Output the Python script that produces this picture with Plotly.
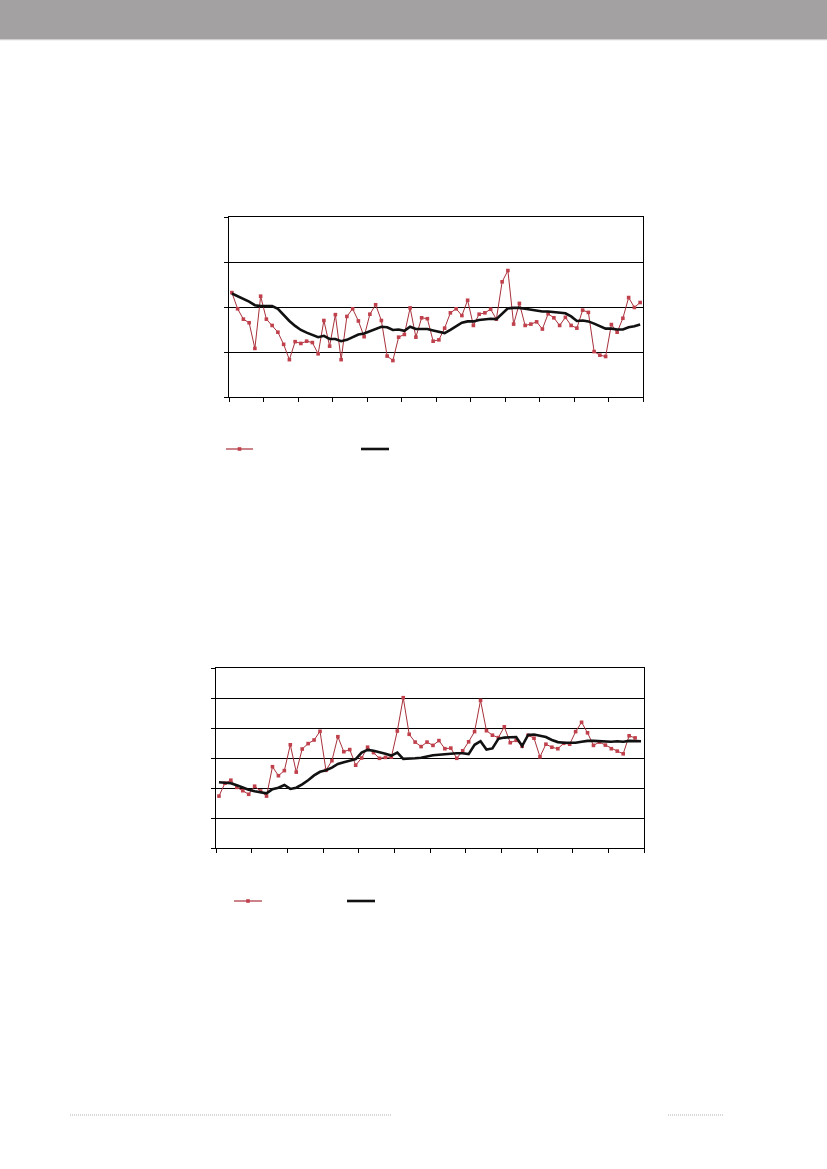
import plotly.graph_objects as go

# ---------------- data ----------------
periods = list(range(1, 73))

chart1_series = [
    2.32, 1.96, 1.73, 1.65, 1.08, 2.24, 1.73, 1.59, 1.44, 1.17, 0.83, 1.23,
    1.19, 1.24, 1.21, 0.96, 1.70, 1.13, 1.83, 0.83, 1.79, 1.96, 1.69, 1.34,
    1.84, 2.05, 1.70, 0.91, 0.81, 1.33, 1.39, 1.98, 1.33, 1.76, 1.74, 1.24,
    1.27, 1.53, 1.87, 1.96, 1.81, 2.15, 1.59, 1.84, 1.87, 1.95, 1.73, 2.56,
    2.81, 1.62, 2.08, 1.59, 1.62, 1.67, 1.51, 1.85, 1.76, 1.59, 1.77, 1.59,
    1.53, 1.93, 1.88, 1.01, 0.93, 0.90, 1.61, 1.44, 1.75, 2.21, 1.99, 2.10,
]
chart1_trend = [
    2.30, 2.24, 2.19, 2.12, 2.04, 2.02, 2.02, 2.02, 1.96, 1.82, 1.69, 1.58,
    1.49, 1.43, 1.38, 1.33, 1.36, 1.29, 1.29, 1.24, 1.27, 1.33, 1.39, 1.41,
    1.46, 1.52, 1.56, 1.55, 1.49, 1.50, 1.47, 1.56, 1.51, 1.51, 1.51, 1.48,
    1.45, 1.42, 1.49, 1.58, 1.65, 1.68, 1.68, 1.71, 1.73, 1.74, 1.73, 1.84,
    1.97, 1.98, 1.98, 1.96, 1.94, 1.91, 1.90, 1.90, 1.89, 1.87, 1.86, 1.79,
    1.69, 1.70, 1.68, 1.63, 1.58, 1.52, 1.52, 1.50, 1.50, 1.55, 1.57, 1.61,
]

chart2_series = [
    1.73, 2.16, 2.26, 2.02, 1.91, 1.79, 2.06, 1.90, 1.73, 2.71, 2.41, 2.58,
    3.44, 2.53, 3.30, 3.48, 3.60, 3.89, 2.59, 2.91, 3.71, 3.21, 3.28, 2.76,
    3.00, 3.36, 3.18, 2.99, 3.02, 3.03, 3.90, 5.01, 3.79, 3.53, 3.38, 3.53,
    3.42, 3.58, 3.31, 3.33, 2.99, 3.24, 3.54, 3.88, 4.92, 3.91, 3.76, 3.68,
    4.04, 3.51, 3.59, 3.39, 3.76, 3.66, 3.04, 3.46, 3.36, 3.31, 3.49, 3.46,
    3.88, 4.19, 3.84, 3.42, 3.53, 3.43, 3.31, 3.23, 3.14, 3.74, 3.67, None,
]
chart2_trend = [
    2.19, 2.18, 2.16, 2.09, 2.01, 1.94, 1.89, 1.86, 1.82, 1.96, 2.01, 2.10,
    1.97, 2.01, 2.12, 2.26, 2.42, 2.54, 2.59, 2.68, 2.80, 2.86, 2.91, 2.96,
    3.18, 3.27, 3.24, 3.20, 3.14, 3.08, 3.18, 2.97, 2.97, 2.99, 3.01, 3.06,
    3.09, 3.11, 3.13, 3.16, 3.16, 3.16, 3.13, 3.44, 3.56, 3.28, 3.32, 3.64,
    3.68, 3.69, 3.70, 3.40, 3.77, 3.78, 3.74, 3.70, 3.60, 3.53, 3.51, 3.50,
    3.51, 3.54, 3.57, 3.57, 3.56, 3.56, 3.54, 3.56, 3.54, 3.57, 3.57, 3.56,
]

# ---------------- styling ----------------
W, H = 827, 1169
RED_LINE = "#a8303a"
RED_MARK = "#c0404c"
BLACK = "#111111"

def px_x(v):
    return v / W

def px_y(v):
    return 1 - v / H

fig = go.Figure()

for xa, ya, series, trend in [("x", "y", chart1_series, chart1_trend),
                              ("x2", "y2", chart2_series, chart2_trend)]:
    fig.add_trace(go.Scatter(
        x=periods, y=series, xaxis=xa, yaxis=ya, mode="lines+markers",
        line=dict(color=RED_LINE, width=1),
        marker=dict(symbol="square", size=3.6, color=RED_MARK),
        showlegend=False, connectgaps=False,
    ))
    fig.add_trace(go.Scatter(
        x=periods, y=trend, xaxis=xa, yaxis=ya, mode="lines",
        line=dict(color=BLACK, width=2.6),
        showlegend=False,
    ))

tickpos = [0.5 + 6 * i for i in range(13)]
axis_common = dict(showline=True, linecolor="black", linewidth=1, mirror=True,
                   ticks="outside", ticklen=4, tickcolor="black",
                   showticklabels=False, zeroline=False)

fig.update_layout(
    width=W, height=H, margin=dict(l=0, r=0, t=0, b=0),
    paper_bgcolor="white", plot_bgcolor="white", showlegend=False,
    xaxis=dict(domain=[px_x(229), px_x(643)], range=[0.5, 72.5],
               tickvals=tickpos, showgrid=False, anchor="y", **axis_common),
    yaxis=dict(domain=[px_y(397), px_y(217)], range=[0, 4], dtick=1,
               showgrid=True, gridcolor="black", gridwidth=1, anchor="x",
               **axis_common),
    xaxis2=dict(domain=[px_x(216), px_x(644)], range=[0.5, 72.5],
                tickvals=tickpos, showgrid=False, anchor="y2", **axis_common),
    yaxis2=dict(domain=[px_y(848), px_y(668)], range=[0, 6], dtick=1,
                showgrid=True, gridcolor="black", gridwidth=1, anchor="x2",
                **axis_common),
)

shapes = []
# header band
shapes.append(dict(type="rect", xref="paper", yref="paper", x0=0, x1=1,
                   y0=px_y(39), y1=1, fillcolor="#a3a1a2", line=dict(width=0),
                   layer="below"))
shapes.append(dict(type="line", xref="paper", yref="paper", x0=0, x1=1,
                   y0=px_y(39.7), y1=px_y(39.7),
                   line=dict(color="#cfcfcf", width=1.2)))
# footer dotted rules
for a, b in [(70, 391), (668, 724)]:
    shapes.append(dict(type="line", xref="paper", yref="paper",
                       x0=px_x(a), x1=px_x(b), y0=px_y(1115), y1=px_y(1115),
                       line=dict(color="#a0a0a0", width=0.8, dash="1px,1px")))

# legend swatches (no legend text in reference)
for (ry, r0, r1, b0, b1) in [(449, 226, 253, 361, 389), (901, 234, 262, 347, 375)]:
    shapes.append(dict(type="line", xref="paper", yref="paper",
                       x0=px_x(r0), x1=px_x(r1), y0=px_y(ry), y1=px_y(ry),
                       line=dict(color=RED_LINE, width=1.2)))
    mx = (r0 + r1) / 2
    shapes.append(dict(type="rect", xref="paper", yref="paper",
                       x0=px_x(mx - 1.8), x1=px_x(mx + 1.8),
                       y0=px_y(ry + 1.8), y1=px_y(ry - 1.8),
                       fillcolor=RED_MARK, line=dict(width=0)))
    shapes.append(dict(type="line", xref="paper", yref="paper",
                       x0=px_x(b0), x1=px_x(b1), y0=px_y(ry), y1=px_y(ry),
                       line=dict(color=BLACK, width=2.6)))

fig.update_layout(shapes=shapes)

fig.write_html("out.html",
               config={"displayModeBar": False},
               post_script="document.body.style.margin='0';document.body.style.overflow='hidden';")
